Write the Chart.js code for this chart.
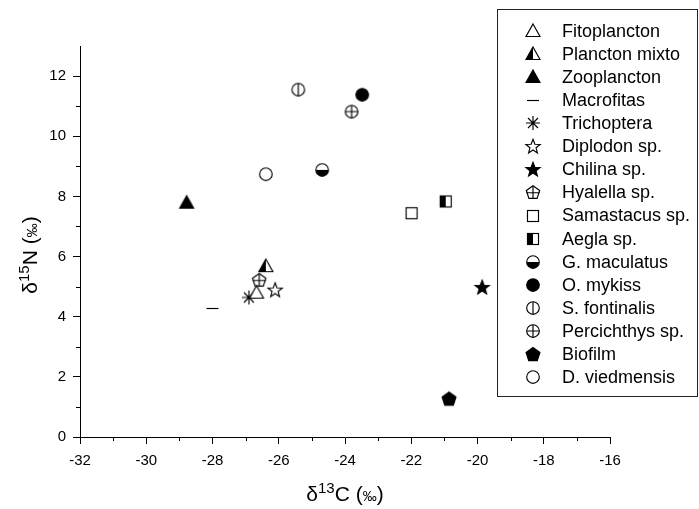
<!DOCTYPE html>
<html>
<head>
<meta charset="utf-8">
<script src="https://cdn.jsdelivr.net/npm/chart.js@4.4.1/dist/chart.umd.min.js"></script>
<style>
  html, body { margin: 0; padding: 0; background: #fff; }
</style>
</head>
<body>
<canvas id="chart" width="699" height="509"></canvas>
<script>
// Datos: valores isotópicos por taxón
const species = ["Fitoplancton", "Plancton mixto", "Zooplancton", "Macrofitas", "Trichoptera",
  "Diplodon sp.", "Chilina sp.", "Hyalella sp.", "Samastacus sp.", "Aegla sp.",
  "G. maculatus", "O. mykiss", "S. fontinalis", "Percichthys sp.", "Biofilm", "D. viedmensis"];
const d13C = [-26.67, -26.39, -28.78, -28.0, -26.90, -26.11, -19.86, -26.59, -21.99, -20.96,
  -24.69, -23.48, -25.41, -23.80, -20.86, -26.39];
const d15N = [4.80, 5.68, 7.79, 4.29, 4.64, 4.90, 4.99, 5.23, 7.44, 7.83,
  8.88, 11.38, 11.55, 10.82, 1.28, 8.74];
const markers = ["triangleOpen", "triangleHalf", "triangleFilled", "dash", "asterisk",
  "starOpen", "starFilled", "pentagonCross", "squareOpen", "squareHalf",
  "circleHalfBottom", "circleFilled", "circleVLine", "circleCross", "pentagonFilled", "circleOpen"];
const xRange = [-32, -16];
const yRange = [0, 13];

const FONT = "'Liberation Sans', Arial, sans-serif";

// Marcadores dibujados en canvas pequeños
function polygon(ctx, pts) {
  ctx.beginPath();
  pts.forEach((p, i) => i ? ctx.lineTo(p[0], p[1]) : ctx.moveTo(p[0], p[1]));
  ctx.closePath();
}
function starPts(ro, ri) {
  const pts = [];
  for (let k = 0; k < 10; k++) {
    const a = -Math.PI / 2 + k * Math.PI / 5;
    const r = k % 2 ? ri : ro;
    pts.push([r * Math.cos(a), r * Math.sin(a) + 0.8]);
  }
  return pts;
}
function pentPts(r) {
  const pts = [];
  for (let k = 0; k < 5; k++) {
    const a = -Math.PI / 2 + k * 2 * Math.PI / 5;
    pts.push([r * Math.cos(a), r * Math.sin(a) + 0.7]);
  }
  return pts;
}

function makeMarker(kind) {
  const size = 20;
  const c = document.createElement("canvas");
  c.width = size; c.height = size;
  const ctx = c.getContext("2d");
  ctx.translate(size / 2, size / 2);
  ctx.lineWidth = 1.15;
  ctx.strokeStyle = "#000";
  ctx.fillStyle = "#000";
  const tri = [[0, -7], [7, 5.5], [-7, 5.5]];
  switch (kind) {
    case "triangleOpen":
      polygon(ctx, tri); ctx.fillStyle = "#fff"; ctx.fill(); ctx.stroke(); break;
    case "triangleHalf":
      polygon(ctx, tri); ctx.fillStyle = "#fff"; ctx.fill();
      polygon(ctx, [[0, -7], [0, 5.5], [-7, 5.5]]); ctx.fillStyle = "#000"; ctx.fill();
      polygon(ctx, tri); ctx.stroke(); break;
    case "triangleFilled":
      polygon(ctx, tri); ctx.fill(); ctx.stroke(); break;
    case "dash":
      ctx.beginPath(); ctx.moveTo(-6, 0.5); ctx.lineTo(6, 0.5); ctx.stroke(); break;
    case "asterisk":
      ctx.beginPath();
      ctx.moveTo(-7, 0); ctx.lineTo(7, 0);
      ctx.moveTo(0, -7); ctx.lineTo(0, 7);
      ctx.moveTo(-5, -5); ctx.lineTo(5, 5);
      ctx.moveTo(-5, 5); ctx.lineTo(5, -5);
      ctx.stroke(); break;
    case "starOpen":
      polygon(ctx, starPts(7.5, 3.2)); ctx.fillStyle = "#fff"; ctx.fill(); ctx.stroke(); break;
    case "starFilled":
      polygon(ctx, starPts(7.5, 3.2)); ctx.fill(); ctx.stroke(); break;
    case "pentagonCross": {
      const p = pentPts(7);
      polygon(ctx, p); ctx.fillStyle = "#fff"; ctx.fill(); ctx.stroke();
      ctx.beginPath();
      ctx.moveTo(0, p[0][1]); ctx.lineTo(0, p[2][1]);
      ctx.moveTo(p[4][0], 0.7); ctx.lineTo(p[1][0], 0.7);
      ctx.stroke(); break;
    }
    case "pentagonFilled":
      polygon(ctx, pentPts(7.3)); ctx.fill(); ctx.stroke(); break;
    case "squareOpen":
      ctx.fillStyle = "#fff"; ctx.fillRect(-5.5, -5.5, 11, 11); ctx.strokeRect(-5.5, -5.5, 11, 11); break;
    case "squareHalf":
      ctx.fillStyle = "#fff"; ctx.fillRect(-5.5, -5.5, 11, 11);
      ctx.fillStyle = "#000"; ctx.fillRect(-5.5, -5.5, 5.5, 11);
      ctx.strokeRect(-5.5, -5.5, 11, 11); break;
    case "circleOpen":
    case "circleVLine":
    case "circleCross":
    case "circleHalfBottom":
    case "circleFilled":
      ctx.beginPath(); ctx.arc(0, 0, 6.3, 0, Math.PI * 2);
      ctx.fillStyle = kind === "circleFilled" ? "#000" : "#fff"; ctx.fill();
      if (kind === "circleHalfBottom") {
        ctx.beginPath(); ctx.arc(0, 0, 6.3, 0, Math.PI); ctx.closePath();
        ctx.fillStyle = "#000"; ctx.fill();
      }
      ctx.beginPath(); ctx.arc(0, 0, 6.3, 0, Math.PI * 2); ctx.stroke();
      if (kind === "circleVLine" || kind === "circleCross") {
        ctx.beginPath(); ctx.moveTo(0, -6.3); ctx.lineTo(0, 6.3);
        if (kind === "circleCross") { ctx.moveTo(-6.3, 0); ctx.lineTo(6.3, 0); }
        ctx.stroke();
      }
      break;
  }
  return c;
}

const markerImgs = markers.map(makeMarker);

const datasets = species.map((name, i) => ({
  label: name,
  data: [{ x: d13C[i], y: d15N[i] }],
  pointStyle: markerImgs[i],
  pointRadius: 7
}));

// Texto con superíndices
function drawRich(ctx, parts, x, y) {
  let total = 0;
  parts.forEach(p => { ctx.font = p.f + "px " + FONT; p.w = ctx.measureText(p.t).width; total += p.w; });
  let cx = x - total / 2;
  parts.forEach(p => {
    ctx.font = p.f + "px " + FONT;
    ctx.fillText(p.t, cx, y - (p.up || 0));
    cx += p.w;
  });
}

const extras = {
  id: "extras",
  afterDraw(chart) {
    const ctx = chart.ctx;
    const xs = chart.scales.x, ys = chart.scales.y;
    const area = chart.chartArea;
    ctx.save();
    // ticks menores
    ctx.strokeStyle = "#000";
    ctx.lineWidth = 1;
    ctx.beginPath();
    for (let v = xRange[0] + 1; v < xRange[1]; v += 2) {
      const px = Math.round(xs.getPixelForValue(v)) + 0.5;
      ctx.moveTo(px, area.bottom); ctx.lineTo(px, area.bottom + 4);
    }
    for (let v = yRange[0] + 1; v < yRange[1]; v += 2) {
      const py = Math.round(ys.getPixelForValue(v)) + 0.5;
      ctx.moveTo(area.left, py); ctx.lineTo(area.left - 4, py);
    }
    ctx.stroke();

    // títulos de ejes
    ctx.fillStyle = "#000";
    ctx.textBaseline = "alphabetic";
    ctx.textAlign = "left";
    drawRich(ctx, [
      { t: "δ", f: 21 }, { t: "13", f: 15, up: 8 }, { t: "C (", f: 21 }, { t: "‰", f: 14 }, { t: ")", f: 21 }
    ], (area.left + area.right) / 2, 501);
    ctx.save();
    ctx.translate(37, 255);
    ctx.rotate(-Math.PI / 2);
    drawRich(ctx, [
      { t: "δ", f: 21 }, { t: "15", f: 15, up: 8 }, { t: "N (", f: 21 }, { t: "‰", f: 14 }, { t: ")", f: 21 }
    ], 0, 0);
    ctx.restore();

    // leyenda
    const bx = 497.5, by = 9.5, bw = 200, bh = 387;
    ctx.fillStyle = "#fff";
    ctx.fillRect(bx, by, bw, bh);
    ctx.strokeStyle = "#222";
    ctx.strokeRect(bx, by, bw, bh);
    ctx.font = "18px " + FONT;
    ctx.textBaseline = "middle";
    ctx.fillStyle = "#000";
    species.forEach((name, i) => {
      const y = 30.7 + i * 23.1;
      const img = markerImgs[i];
      ctx.drawImage(img, 533 - img.width / 2, Math.round(y) - img.height / 2);
      ctx.fillText(name, 562, y + 1);
    });
    ctx.restore();
  }
};

new Chart(document.getElementById("chart"), {
  type: "scatter",
  data: { datasets },
  options: {
    responsive: false,
    animation: false,
    events: [],
    layout: { padding: { top: 46, right: 89, left: 0, bottom: 0 } },
    plugins: { legend: { display: false }, tooltip: { enabled: false } },
    scales: {
      x: {
        type: "linear",
        min: xRange[0], max: xRange[1],
        afterFit: s => { s.height = 72; },
        border: { display: true, color: "#000", width: 1 },
        grid: { drawOnChartArea: false, drawTicks: true, tickLength: 7, color: "#000" },
        ticks: { stepSize: 2, includeBounds: false, color: "#000", padding: 8, maxRotation: 0,
                 font: { family: FONT, size: 15 } }
      },
      y: {
        type: "linear",
        min: yRange[0], max: yRange[1],
        afterFit: s => { s.width = 80; },
        border: { display: true, color: "#000", width: 1 },
        grid: { drawOnChartArea: false, drawTicks: true, tickLength: 7, color: "#000" },
        ticks: { stepSize: 2, includeBounds: false, color: "#000", padding: 7,
                 font: { family: FONT, size: 15 } }
      }
    }
  },
  plugins: [extras]
});
</script>
</body>
</html>
